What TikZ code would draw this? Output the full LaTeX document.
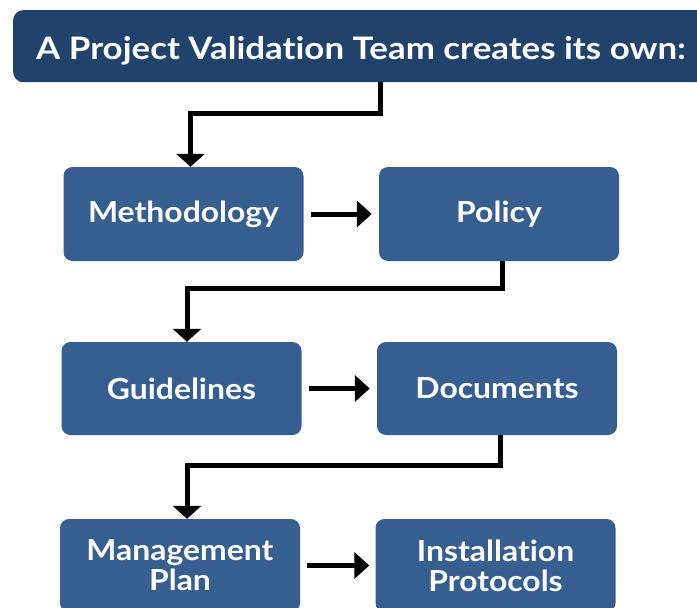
\documentclass[tikz,border=0pt]{standalone}
\usepackage{fontspec}
\setmainfont{Lato}[Ligatures={NoCommon}]
\newfontfamily\boxfont{Lato}[Ligatures={NoCommon},FakeStretch=1.1]
\newfontfamily\titlefont{Lato}[Ligatures={NoCommon},FakeStretch=1.125]
\usetikzlibrary{arrows.meta,calc}
\definecolor{bannerblue}{RGB}{33,66,107}
\definecolor{boxblue}{RGB}{54,95,144}
\tikzset{
  stepbox/.style={rectangle, rounded corners=9pt, fill=boxblue, text=white,
    minimum width=240pt, minimum height=94pt, inner sep=0pt, align=center,
    font=\boxfont\fontsize{29}{30}\selectfont\bfseries},
  conn/.style={line width=5pt, line join=miter, line cap=butt,
    -{Triangle[length=13pt,width=28pt]}},
  rconn/.style={line width=5pt, -{Triangle[length=15pt,width=26pt]}},
}
\begin{document}
\begin{tikzpicture}[x=1pt,y=-1pt]
\useasboundingbox (0,0) rectangle (697,608);
\clip (0,0) rectangle (697,608);
\node[rectangle, rounded corners=10pt, fill=bannerblue, minimum width=730pt,
  minimum height=72pt, inner sep=0pt, anchor=north west] (banner) at (13,10) {};
\node[anchor=base west, text=white, inner sep=0pt,
  font=\titlefont\fontsize{31}{32}\selectfont\bfseries] (title) at (36,59)
  {A Project Validation Team creates its own:};

\node[stepbox] (meth) at (183.5,214) {Methodology};
\node[stepbox] (pol)  at (499,214) {Policy};
\node[stepbox, minimum height=93pt] (guid) at (181.5,388.5) {Guidelines};
\node[stepbox, minimum height=93pt] (docs) at (497,388.5) {Documents};
\node[stepbox, minimum height=93pt] (mgmt) at (180,565.5) {Management\\Plan};
\node[stepbox, minimum height=93pt] (inst) at (495.5,565.5) {Installation\\Protocols};

\coordinate (b1) at (380,82);
\draw[conn] (b1) -- (380,113) -| ([xshift=7pt]meth.north);
\draw[conn] ([xshift=3pt]pol.south) -- ++(0,27) -| ([xshift=5.5pt]guid.north);
\draw[conn] ([xshift=3pt]docs.south) -- ++(0,30) -| ([xshift=7pt]mgmt.north);

\draw[rconn] ([xshift=7pt]meth.east) -- ([xshift=-7pt]pol.west);
\draw[rconn] ([xshift=7pt]guid.east) -- ([xshift=-7pt]docs.west);
\draw[rconn] ([xshift=7pt]mgmt.east) -- ([xshift=-6pt]inst.west);
\end{tikzpicture}
\end{document}
